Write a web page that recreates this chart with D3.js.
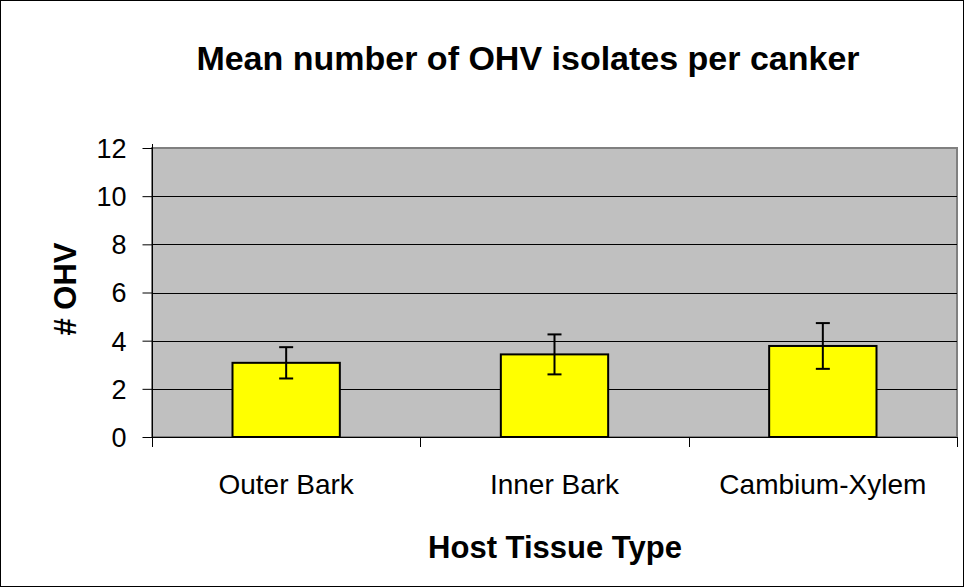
<!DOCTYPE html>
<html>
<head>
<meta charset="utf-8">
<script src="https://cdn.jsdelivr.net/npm/d3@7"></script>
<style>
  body { margin: 0; background: #fff; }
  svg text { font-family: Arial, "Liberation Sans", sans-serif; fill: #000; }
</style>
</head>
<body>
<div id="chart"></div>
<script>
var categories = ['Outer Bark', 'Inner Bark', 'Cambium-Xylem'];
var means = [3.08, 3.43, 3.78];
var errors = [0.65, 0.83, 0.95];
var y_ticks = [0, 2, 4, 6, 8, 10, 12];

var width = 965,
	height = 588;

var plot = {left: 152, right: 957, top: 148, bottom: 437};

var svg = d3.select('#chart')
	.append('svg')
	.attr('width', width)
	.attr('height', height);

// borde exterior
svg.append('rect')
	.attr('x', 0.5).attr('y', 0.5)
	.attr('width', width - 2).attr('height', height - 2)
	.attr('fill', '#fff')
	.attr('stroke', '#000');

var x_scale = d3.scaleBand()
	.domain(categories)
	.range([plot.left, plot.right])
	.paddingInner(0.6)
	.paddingOuter(0.3);

var y_scale = d3.scaleLinear()
	.domain([0, 12])
	.range([plot.bottom, plot.top]);

// fondo gris del area
svg.append('rect')
	.attr('x', plot.left).attr('y', plot.top)
	.attr('width', plot.right - plot.left)
	.attr('height', plot.bottom - plot.top)
	.attr('fill', '#c0c0c0')
	.attr('stroke', '#808080')
	.attr('stroke-width', 2);

// lineas de grilla
svg.selectAll('.grid')
	.data(y_ticks.filter(function(d) { return d > 0 && d < 12; }))
	.enter()
	.append('line')
		.attr('class', 'grid')
		.attr('x1', plot.left).attr('x2', plot.right)
		.attr('y1', function(d) { return Math.round(y_scale(d)) + 0.5; })
		.attr('y2', function(d) { return Math.round(y_scale(d)) + 0.5; })
		.attr('stroke', '#000');

// eje y
var y_axis = d3.axisLeft(y_scale)
	.tickValues(y_ticks)
	.tickSize(10)
	.tickPadding(16);

var gy = svg.append('g')
	.attr('transform', 'translate(' + (plot.left + 0.5) + ',0)')
	.call(y_axis);
gy.selectAll('text').style('font-size', '27px').attr('dy', '0.35em');
gy.select('.domain').remove();
gy.append('line')
	.attr('x1', 0).attr('x2', 0)
	.attr('y1', plot.top - 4).attr('y2', plot.bottom + 6)
	.attr('stroke', '#000');

// eje x con marcas entre categorias
var step = (plot.right - plot.left) / categories.length;
svg.append('line')
	.attr('x1', plot.left).attr('x2', plot.right)
	.attr('y1', plot.bottom + 0.5).attr('y2', plot.bottom + 0.5)
	.attr('stroke', '#000');
svg.selectAll('.xtick')
	.data(d3.range(categories.length + 1))
	.enter()
	.append('line')
		.attr('class', 'xtick')
		.attr('x1', function(i) { return Math.round(plot.left + i * step) + 0.5; })
		.attr('x2', function(i) { return Math.round(plot.left + i * step) + 0.5; })
		.attr('y1', plot.bottom).attr('y2', plot.bottom + 10)
		.attr('stroke', '#000');

svg.selectAll('.xlabel')
	.data(categories)
	.enter()
	.append('text')
		.attr('class', 'xlabel')
		.attr('x', function(d) { return x_scale(d) + x_scale.bandwidth() / 2; })
		.attr('y', 494)
		.attr('text-anchor', 'middle')
		.style('font-size', '28px')
		.text(function(d) { return d; });

// barras
svg.selectAll('.bar')
	.data(means)
	.enter()
	.append('rect')
		.attr('class', 'bar')
		.attr('x', function(d, i) { return x_scale(categories[i]); })
		.attr('y', function(d) { return y_scale(d); })
		.attr('width', x_scale.bandwidth())
		.attr('height', function(d) { return y_scale(0) - y_scale(d); })
		.attr('fill', '#ffff00')
		.attr('stroke', '#000')
		.attr('stroke-width', 2);

// barras de error
var err = svg.selectAll('.err')
	.data(means)
	.enter()
	.append('g')
		.attr('class', 'err')
		.attr('transform', function(d, i) {
			return 'translate(' + (x_scale(categories[i]) + x_scale.bandwidth() / 2) + ',0)';
		});

err.append('line')
	.attr('x1', 0).attr('x2', 0)
	.attr('y1', function(d, i) { return y_scale(d + errors[i]); })
	.attr('y2', function(d, i) { return y_scale(d - errors[i]); })
	.attr('stroke', '#000').attr('stroke-width', 2);
err.selectAll('.cap')
	.data(function(d, i) { return [d + errors[i], d - errors[i]]; })
	.enter()
	.append('line')
		.attr('class', 'cap')
		.attr('x1', -7).attr('x2', 7)
		.attr('y1', function(v) { return y_scale(v); })
		.attr('y2', function(v) { return y_scale(v); })
		.attr('stroke', '#000').attr('stroke-width', 2);

// titulos
svg.append('text')
	.attr('x', 528).attr('y', 70)
	.attr('text-anchor', 'middle')
	.style('font-size', '34px').style('font-weight', 'bold')
	.text('Mean number of OHV isolates per canker');

svg.append('text')
	.attr('x', 555).attr('y', 558)
	.attr('text-anchor', 'middle')
	.style('font-size', '31px').style('font-weight', 'bold')
	.text('Host Tissue Type');

svg.append('text')
	.attr('transform', 'translate(76,289) rotate(-90)')
	.attr('text-anchor', 'middle')
	.style('font-size', '31px').style('font-weight', 'bold')
	.text('# OHV');
</script>
</body>
</html>
